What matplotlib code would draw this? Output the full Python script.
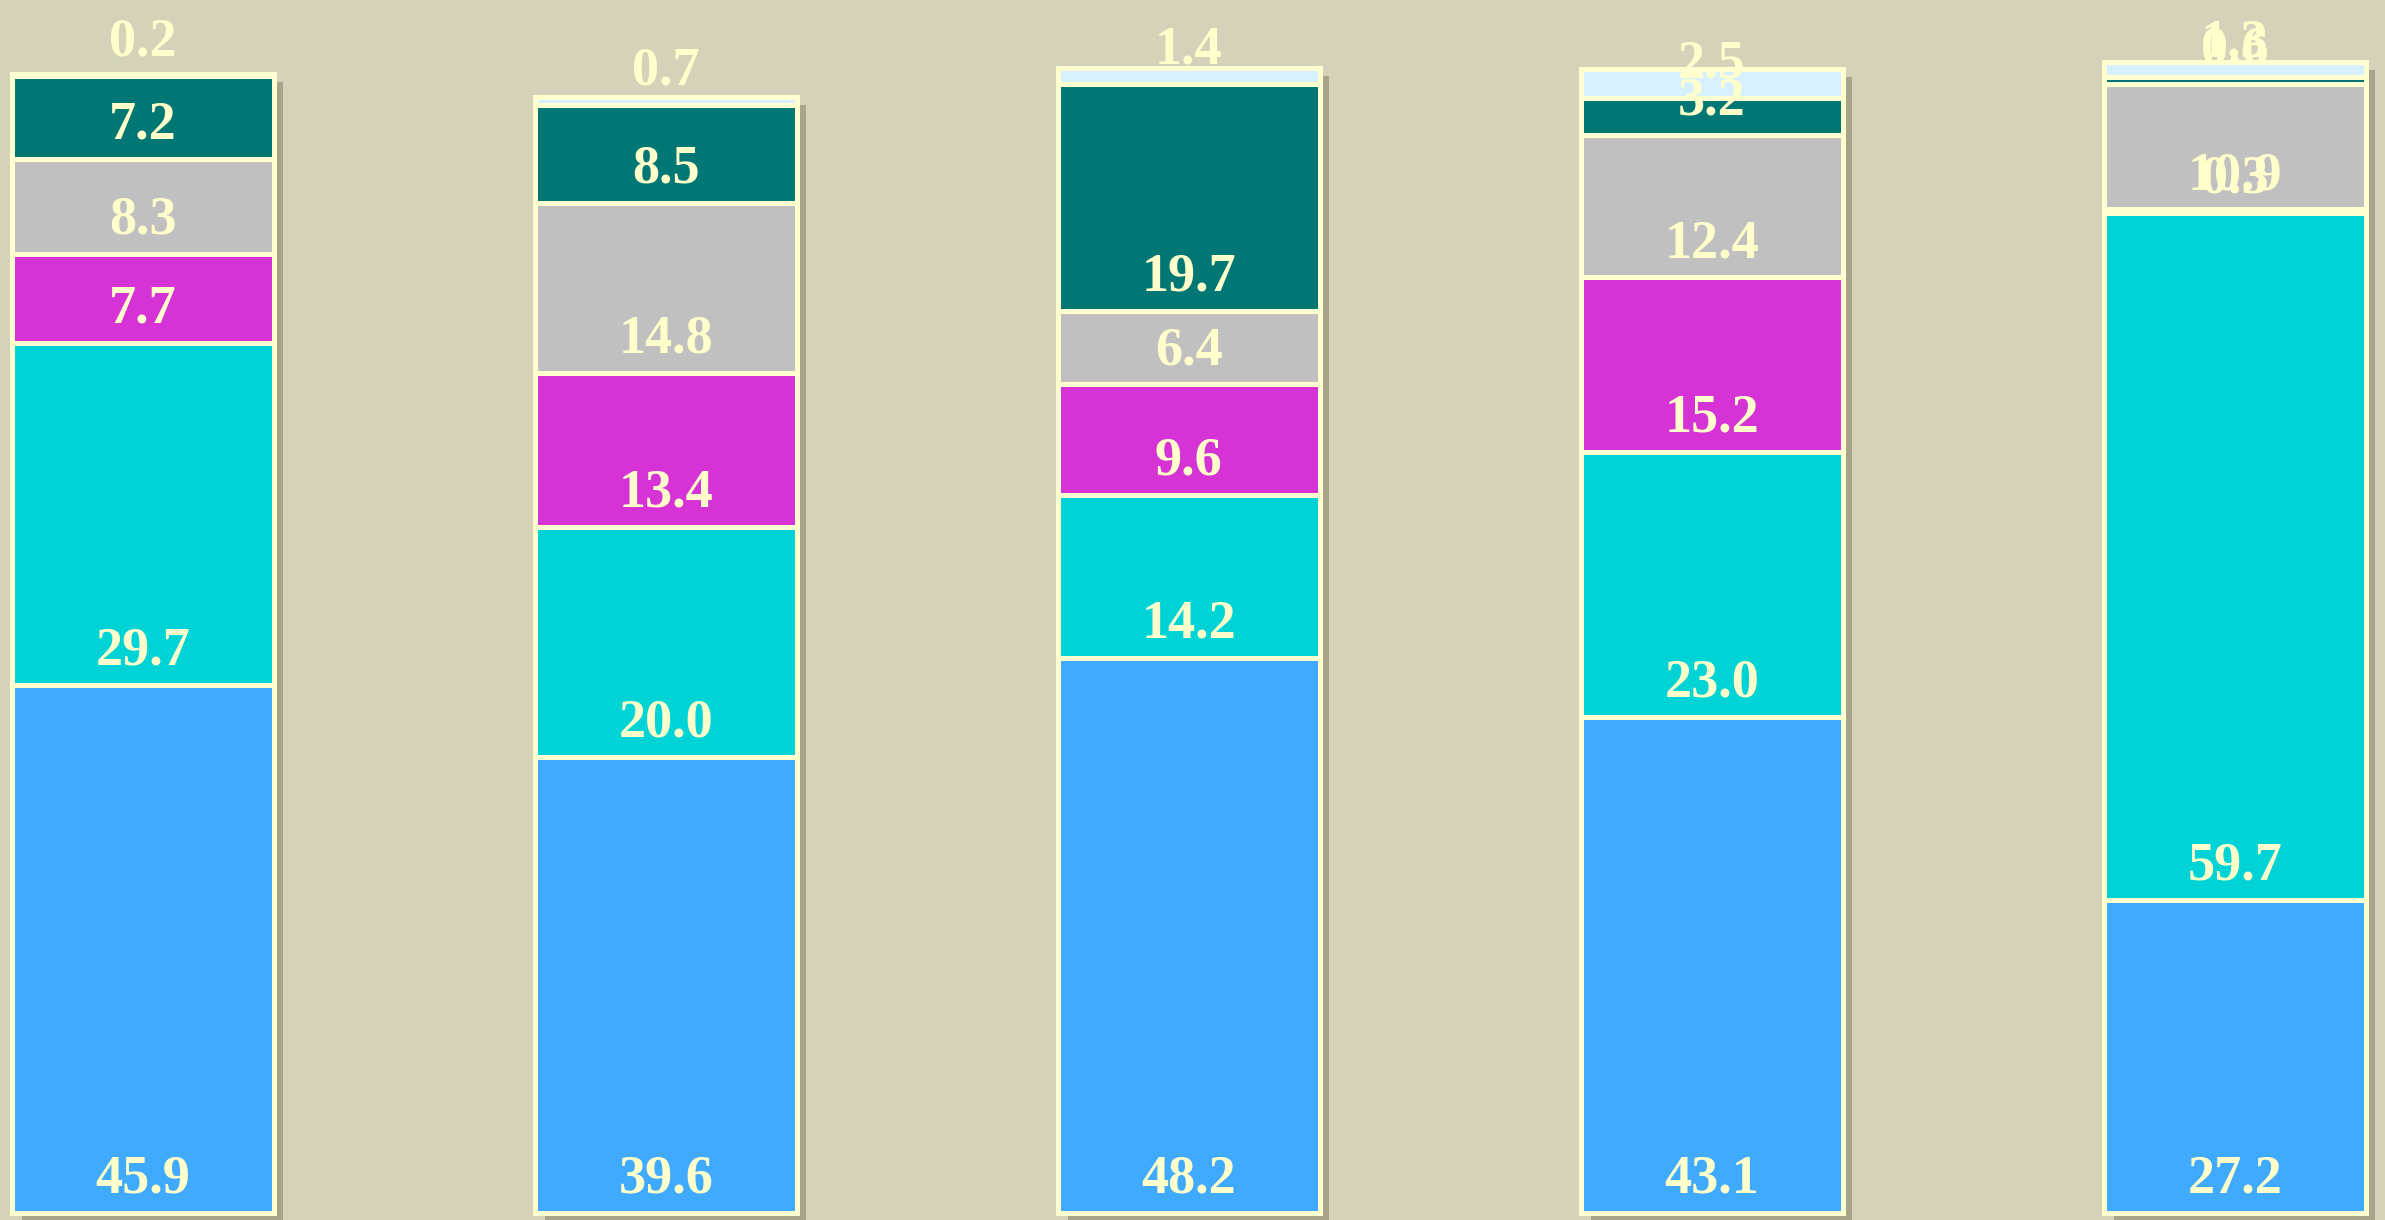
import numpy as np
import matplotlib
matplotlib.use("Agg")
import matplotlib.pyplot as plt
import matplotlib.patheffects as pe

# segment values, bottom to top, one entry per bar
bars = ["1", "2", "3", "4", "5"]
blue = [45.9, 39.6, 48.2, 43.1, 27.2]
cyan = [29.7, 20.0, 14.2, 23.0, 59.7]
magenta = [7.7, 13.4, 9.6, 15.2, 0.3]
grey = [8.3, 14.8, 6.4, 12.4, 10.9]
teal = [7.2, 8.5, 19.7, 3.2, 0.6]
lightblue = [0.2, 0.7, 1.4, 2.5, 1.3]

series = [blue, cyan, magenta, grey, teal, lightblue]
colors = ["#3FAAFF", "#00D3D6", "#D633D6", "#C0C0C0", "#007775", "#D6F0FF"]

bg = "#D4D3BA"
cream = "#FFFFD0"
label_color = "#FFFFCC"

fig = plt.figure(figsize=(23.85, 12.2), dpi=100)
fig.patch.set_facecolor(bg)
ax = fig.add_axes([0, 0, 1, 1])
ax.set_facecolor(bg)

x = np.arange(len(bars))
width = 0.5
totals = np.sum(series, axis=0)

# drop shadow behind each whole bar
shadow = ax.bar(x, totals, width, color="none", edgecolor="none", zorder=1)
for p in shadow:
    p.set_path_effects([pe.SimplePatchShadow(offset=(7, -6), shadow_rgbFace="#6E6C52", alpha=0.45)])

bottom = np.zeros(len(bars))
for vals, col in zip(series, colors):
    ax.bar(x, vals, width, bottom=bottom, color=col, edgecolor=cream, linewidth=3.6, zorder=2)
    for xi, b, v in zip(x, bottom, vals):
        ax.text(xi, b + 2.9, f"{v:.1f}", ha="center", va="center", fontsize=39,
                fontweight="bold", family="Liberation Serif", color=label_color, zorder=5)
    bottom += np.array(vals)

ax.set_xlim(-0.273, 4.287)
ax.set_ylim(-0.6, 105.4)
ax.axis("off")

fig.savefig("out.png", dpi=100, facecolor=bg)
